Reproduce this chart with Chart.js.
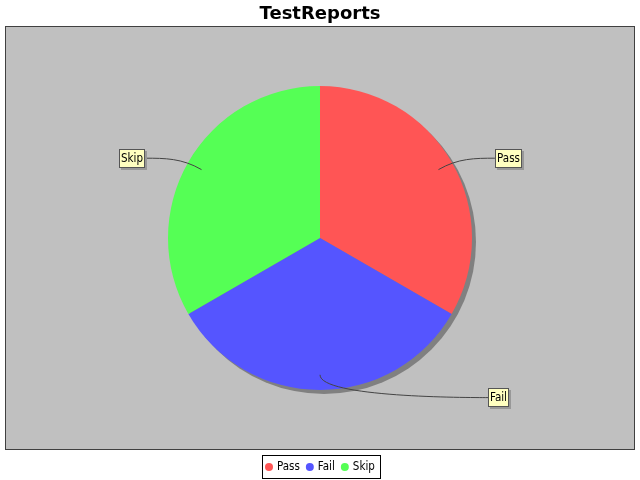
<!DOCTYPE html>
<html><head><meta charset="utf-8">
<script src="https://cdn.jsdelivr.net/npm/chart.js@4"></script>
<style>html,body{margin:0;padding:0;background:#fff}#wrap{width:640px;height:480px;position:relative}</style>
</head><body><div id="wrap"><canvas id="c" width="640" height="480"></canvas></div>
<script>
const categories = ['Pass', 'Fail', 'Skip'];
const values = [1, 1, 1];
const sliceColors = ['#FF5555', '#5555FF', '#55FF55'];
const chartTitle = 'TestReports';

const smallFont = "11.5px 'DejaVu Sans Condensed', 'DejaVu Sans', sans-serif";

const plotBackground = {
  id: 'plotBackground',
  beforeDraw(chart) {
    const {ctx, chartArea: a} = chart;
    ctx.save();
    ctx.fillStyle = '#C0C0C0';
    ctx.fillRect(a.left, a.top, a.right - a.left, a.bottom - a.top);
    ctx.strokeStyle = '#404040';
    ctx.lineWidth = 1;
    ctx.strokeRect(Math.round(a.left) + 0.5, Math.round(a.top) + 0.5, Math.round(a.right - a.left) - 1, Math.round(a.bottom - a.top) - 1);
    ctx.restore();
  }
};

const pieShadow = {
  id: 'pieShadow',
  beforeDatasetsDraw(chart) {
    const arcs = chart.getDatasetMeta(0).data;
    if (!arcs.length) return;
    const {x, y, outerRadius} = arcs[0].getProps(['x', 'y', 'outerRadius'], true);
    const ctx = chart.ctx;
    ctx.save();
    ctx.fillStyle = '#808080';
    ctx.beginPath();
    ctx.arc(x + 4, y + 4, outerRadius, 0, Math.PI * 2);
    ctx.fill();
    ctx.restore();
  }
};

const pieLabels = {
  id: 'pieLabels',
  afterDatasetsDraw(chart) {
    const ctx = chart.ctx;
    const arcs = chart.getDatasetMeta(0).data;
    ctx.save();
    ctx.font = smallFont;
    ctx.textBaseline = 'middle';
    arcs.forEach((arc, i) => {
      const p = arc.getProps(['x', 'y', 'startAngle', 'endAngle', 'outerRadius'], true);
      const mid = (p.startAngle + p.endAngle) / 2;
      const c = Math.cos(mid), s = Math.sin(mid);
      const R = p.outerRadius;
      const right = c > -1e-6;
      const side = right ? 1 : -1;
      const linkX = p.x + c * R * 0.9, linkY = p.y + s * R * 0.9;
      const elbX = p.x + c * R * 1.05, elbY = p.y + s * R * 1.05;
      const labelY = p.y + s * R * 1.05;
      const edgeX = p.x + side * (R + 16 + 8 * Math.abs(c));
      const text = chart.data.labels[i];
      const tw = ctx.measureText(text).width;
      const bw = Math.round(tw + 4), bh = 19;
      const bx = Math.round(right ? edgeX : edgeX - bw);
      const by = Math.round(labelY - bh / 2);
      ctx.strokeStyle = '#444444';
      ctx.lineWidth = 1;
      ctx.beginPath();
      ctx.moveTo(edgeX, labelY);
      ctx.bezierCurveTo(edgeX - side * 20, labelY, elbX, elbY, linkX, linkY);
      ctx.stroke();
      ctx.fillStyle = '#989898';
      ctx.fillRect(bx + 2, by + 2, bw, bh);
      ctx.fillStyle = '#FFFFC0';
      ctx.fillRect(bx, by, bw, bh);
      ctx.strokeStyle = '#555555';
      ctx.strokeRect(bx + 0.5, by + 0.5, bw - 1, bh - 1);
      ctx.fillStyle = '#000000';
      ctx.textAlign = 'center';
      ctx.fillText(text, bx + bw / 2, by + bh / 2 + 0.5);
    });
    ctx.restore();
  }
};

const boxedLegend = {
  id: 'boxedLegend',
  afterDraw(chart) {
    const ctx = chart.ctx;
    const labels = chart.data.labels;
    const colors = chart.data.datasets[0].backgroundColor;
    ctx.save();
    ctx.font = smallFont;
    ctx.textBaseline = 'middle';
    ctx.textAlign = 'left';
    const dot = 8, gapDot = 4, gapItem = 6, padL = 3, padR = 6;
    const widths = labels.map(l => ctx.measureText(l).width);
    let total = padL + padR;
    widths.forEach((w, i) => { total += dot + gapDot + w + (i < widths.length - 1 ? gapItem : 0); });
    total = Math.round(total);
    const boxH = 24;
    const bx = Math.round((chart.width - total) / 2) + 1;
    const by = Math.round(chart.chartArea.bottom) + 5;
    ctx.fillStyle = '#FFFFFF';
    ctx.fillRect(bx, by, total, boxH);
    ctx.strokeStyle = '#000000';
    ctx.lineWidth = 1;
    ctx.strokeRect(bx + 0.5, by + 0.5, total - 1, boxH - 1);
    let x = bx + padL;
    const cy = by + boxH / 2;
    labels.forEach((l, i) => {
      ctx.fillStyle = colors[i];
      ctx.beginPath();
      ctx.arc(x + dot / 2, cy, dot / 2, 0, Math.PI * 2);
      ctx.fill();
      x += dot + gapDot;
      ctx.fillStyle = '#000000';
      ctx.fillText(l, x, cy + 0.5);
      x += widths[i] + gapItem;
    });
    ctx.restore();
  }
};

new Chart(document.getElementById('c'), {
  type: 'pie',
  data: {
    labels: categories,
    datasets: [{
      data: values,
      backgroundColor: sliceColors,
      borderWidth: 0,
      radius: 152
    }]
  },
  options: {
    responsive: false,
    animation: false,
    events: [],
    layout: { padding: { left: 5, right: 5, top: 0, bottom: 30 } },
    plugins: {
      legend: { display: false },
      tooltip: { enabled: false },
      title: {
        display: true,
        text: chartTitle,
        color: '#000000',
        font: { family: "'DejaVu Sans', sans-serif", size: 18, weight: 'bold', lineHeight: 1.2 },
        padding: { top: 4, bottom: 0.4 }
      }
    }
  },
  plugins: [plotBackground, pieShadow, pieLabels, boxedLegend]
});
</script>
</body></html>
